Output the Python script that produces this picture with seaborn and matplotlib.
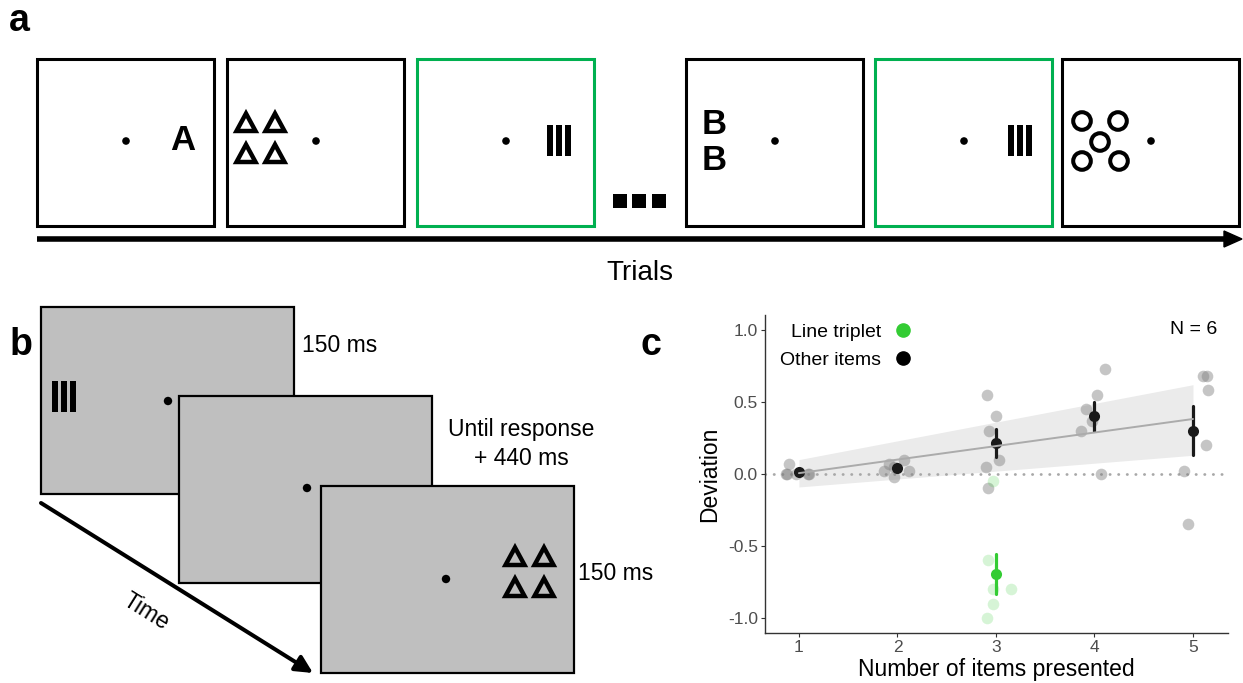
import matplotlib
matplotlib.use('Agg')
import matplotlib.pyplot as plt
from matplotlib.patches import Rectangle, Polygon, Circle
from matplotlib.lines import Line2D
import pandas as pd
import seaborn as sns

# ---- panel a: trial sequence ----
trial_stimuli = ['A', 'triangles', 'lines', 'B', 'lines', 'circles']
trial_is_target = [False, False, True, False, True, False]

# ---- panel b: trial timeline ----
frame_texts = ['150 ms', 'Until response\n+ 440 ms', '150 ms']

# ---- panel c: deviation by number of items presented (N = 6) ----
other_n = [1] * 6 + [2] * 6 + [3] * 6 + [4] * 6 + [5] * 6
other_x = [0.87, 0.88, 0.90, 0.97, 1.09, 1.10,
           1.86, 1.91, 1.97, 1.97, 2.07, 2.12,
           2.91, 3.00, 2.93, 2.90, 3.03, 2.92,
           3.91, 4.03, 4.11, 3.86, 3.97, 4.07,
           5.10, 5.14, 5.15, 5.13, 4.91, 4.95]
other_dev = [0.0, 0.0, 0.07, 0.0, 0.0, 0.0,
             0.02, 0.07, 0.05, -0.02, 0.10, 0.02,
             0.55, 0.40, 0.30, 0.05, 0.10, -0.10,
             0.45, 0.55, 0.73, 0.30, 0.37, 0.0,
             0.68, 0.68, 0.58, 0.20, 0.02, -0.35]
triplet_n = [3] * 6
triplet_x = [2.97, 2.92, 2.97, 3.15, 2.97, 2.91]
triplet_dev = [-0.05, -0.60, -0.80, -0.80, -0.90, -1.0]
band_x = [1, 5]
band_lower = [-0.09, 0.13]
band_upper = [0.10, 0.62]

GREEN_BOX = '#00B050'
GREEN = '#33CC33'
SCREEN_GREY = '#BFBFBF'

sns.set_style('ticks')
plt.rcParams['font.family'] = ['Liberation Sans', 'DejaVu Sans']
plt.rcParams['axes.unicode_minus'] = False
plt.rcParams['text.color'] = 'black'
plt.rcParams['axes.labelcolor'] = 'black'

fig = plt.figure(figsize=(12.43, 6.83), dpi=100)

# full-figure canvas in pixel units for the schematic panels
canvas = fig.add_axes([0, 0, 1, 1])
canvas.set_xlim(0, 1243)
canvas.set_ylim(683, 0)
canvas.axis('off')


def draw_dot(x, y, r=4):
    canvas.add_patch(Circle((x, y), r, color='black', lw=0, zorder=5))


def draw_triangles(x0, y0, face):
    # 2 x 2 block of outlined triangles, x0/y0 = top-left of block
    for dx in (13, 42):
        for dy in (12.5, 43.5):
            cx, cy = x0 + dx, y0 + dy
            canvas.add_patch(Polygon([(cx - 9.5, cy + 9.5), (cx + 9.5, cy + 9.5), (cx, cy - 8)],
                                     closed=True, facecolor=face, edgecolor='black',
                                     lw=3.2, joinstyle='miter', zorder=5))


def draw_lines(x0, y0, h=31):
    for dx in (0, 9, 18):
        canvas.add_patch(Rectangle((x0 + dx, y0), 6.5, h, color='black', lw=0, zorder=5))


def draw_circles(x0, y0):
    for dx, dy in [(0, 0), (36, 0), (18, 21), (0, 40), (37, 40)]:
        canvas.add_patch(Circle((x0 + dx, y0 + dy), 8.8, facecolor='white', edgecolor='black',
                                lw=2.9, zorder=5))


# panel a
box_left = [37, 227, 417, 686, 875, 1062]
for left, stim, target in zip(box_left, trial_stimuli, trial_is_target):
    canvas.add_patch(Rectangle((left, 59), 177, 167, facecolor='white',
                               edgecolor=GREEN_BOX if target else 'black', lw=2.2, zorder=3))
    draw_dot(left + 89, 141, 3.8)
    if stim == 'A':
        canvas.text(left + 146, 141, 'A', fontsize=25, fontweight='bold', ha='center', va='center',
                    zorder=5)
    elif stim == 'B':
        canvas.text(left + 28, 125, 'B', fontsize=25, fontweight='bold', ha='center', va='center',
                    zorder=5)
        canvas.text(left + 28, 161, 'B', fontsize=25, fontweight='bold', ha='center', va='center',
                    zorder=5)
    elif stim == 'lines':
        draw_lines(left + 130 + (3 if left > 800 else 0), 125)
    elif stim == 'triangles':
        draw_triangles(left + 6, 109, 'white')
    elif stim == 'circles':
        draw_circles(left + 20, 121)

for sx in (613, 632, 652):
    canvas.add_patch(Rectangle((sx, 194), 14, 14, color='black', lw=0))

canvas.plot([37, 1226], [239, 239], color='black', lw=4, solid_capstyle='butt')
canvas.add_patch(Polygon([(1224, 231), (1242, 239), (1224, 247)], color='black'))
canvas.text(640, 273, 'Trials', fontsize=20, ha='center', va='center')

# panel b
frames = [(41, 307), (179, 396), (321, 486)]
frame_dots = [(168, 401), (307, 488), (446, 579)]
for i, ((fx, fy), (dx, dy)) in enumerate(zip(frames, frame_dots)):
    canvas.add_patch(Rectangle((fx, fy), 253, 187, facecolor=SCREEN_GREY, edgecolor='black',
                               lw=1.6, zorder=3 + i))
    canvas.add_patch(Circle((dx, dy), 4.2, color='black', lw=0, zorder=3 + i))
draw_lines(52, 381)
draw_triangles(502, 543, SCREEN_GREY)

canvas.text(302, 345, frame_texts[0], fontsize=16.5, ha='left', va='center')
canvas.text(521, 444, frame_texts[1], fontsize=16.5, ha='center', va='center', linespacing=1.3)
canvas.text(578, 573, frame_texts[2], fontsize=16.5, ha='left', va='center')

canvas.annotate('', xy=(313, 673), xytext=(41, 503),
                arrowprops=dict(arrowstyle='-|>', lw=2.9, color='black', mutation_scale=26,
                                shrinkA=0, shrinkB=0))
canvas.text(146, 612, 'Time', fontsize=16.5, rotation=-32, ha='center', va='center',
            rotation_mode='anchor')

# panel letters
canvas.text(9, 31, 'a', fontsize=27, fontweight='bold')
canvas.text(10, 355, 'b', fontsize=27, fontweight='bold')
canvas.text(641, 355, 'c', fontsize=27, fontweight='bold')

# panel c
other_df = pd.DataFrame({'n': other_n, 'x': other_x, 'dev': other_dev})
triplet_df = pd.DataFrame({'n': triplet_n, 'x': triplet_x, 'dev': triplet_dev})

ax = fig.add_axes([0.6154, 0.0732, 0.3725, 0.4656])
ax.fill_between(band_x, band_lower, band_upper, color='#EBEBEB', lw=0, zorder=1)
ax.axhline(0, color='#A8A8A8', lw=2.0, ls=(0, (0.1, 3.0)), dash_capstyle='round', zorder=1)
sns.scatterplot(data=other_df, x='x', y='dev', color='#7F7F7F', alpha=0.45, s=70,
                linewidth=0, ax=ax, zorder=2)
sns.scatterplot(data=triplet_df, x='x', y='dev', color=GREEN, alpha=0.2, s=70,
                linewidth=0, ax=ax, zorder=2)
sns.regplot(data=other_df, x='n', y='dev', scatter=False, ci=None, color='#ABABAB',
            line_kws={'lw': 1.4, 'zorder': 3}, ax=ax)
sns.pointplot(data=other_df, x='n', y='dev', native_scale=True, errorbar='se',
              color='#1A1A1A', markers='o', linestyle='none', markersize=8,
              markeredgewidth=0, linewidth=2.3, ax=ax)
sns.pointplot(data=triplet_df, x='n', y='dev', native_scale=True, errorbar='se',
              color=GREEN, markers='o', linestyle='none', markersize=8,
              markeredgewidth=0, linewidth=2.3, ax=ax)

ax.set_xlim(0.655, 5.355)
ax.set_ylim(-1.104, 1.104)
ax.set_xticks([1, 2, 3, 4, 5])
ax.set_xticklabels(['1', '2', '3', '4', '5'])
ax.set_yticks([-1.0, -0.5, 0.0, 0.5, 1.0])
ax.set_yticklabels(['-1.0', '-0.5', '0.0', '0.5', '1.0'])
ax.tick_params(length=3, width=0.8, color='#333333', labelsize=12.5, labelcolor='#4D4D4D', pad=2)
for side in ['left', 'bottom']:
    ax.spines[side].set_color('#333333')
    ax.spines[side].set_linewidth(1.0)
sns.despine(ax=ax)
ax.set_xlabel('Number of items presented', fontsize=16.5, labelpad=2)
ax.set_ylabel('Deviation', fontsize=16.5, labelpad=5)

handles = [Line2D([], [], marker='o', color=GREEN, ls='none', ms=9.5),
           Line2D([], [], marker='o', color='black', ls='none', ms=9.5)]
ax.legend(handles, ['Line triplet', 'Other items'], markerfirst=False, frameon=False,
          loc='upper left', bbox_to_anchor=(-0.005, 1.03), fontsize=14, handletextpad=0.6,
          labelspacing=0.55, handlelength=1.0)
ax.text(0.976, 0.953, 'N = 6', transform=ax.transAxes, ha='right', va='center', fontsize=14)

fig.savefig('out.png', dpi=100)
